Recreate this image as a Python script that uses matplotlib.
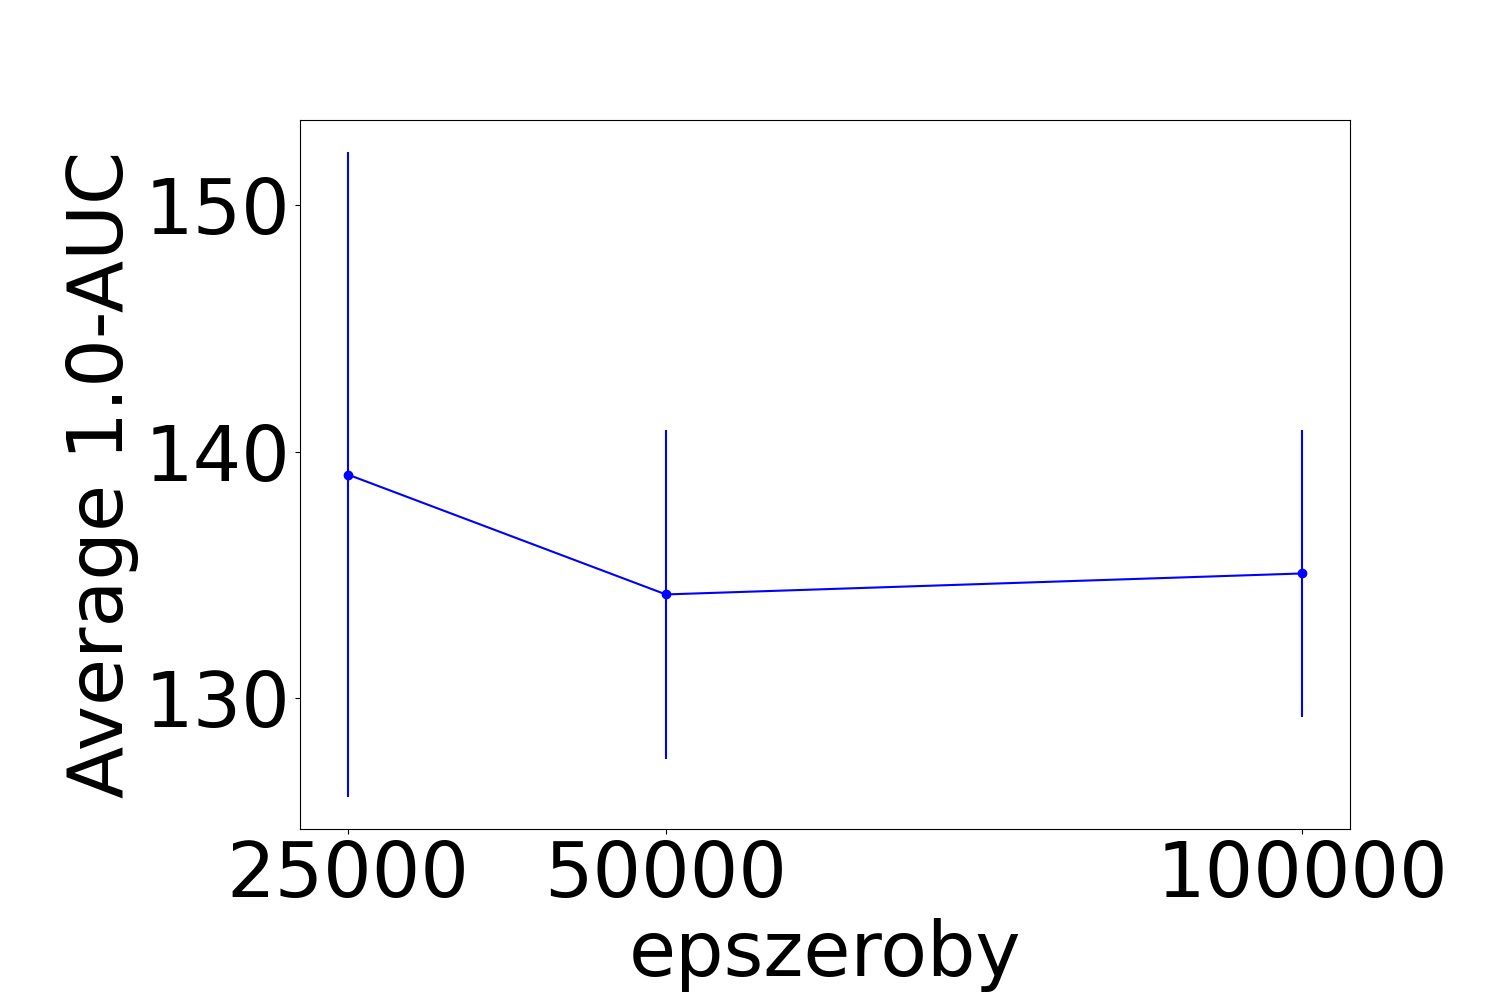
import matplotlib
matplotlib.use("Agg")
import matplotlib.pyplot as plt

# valores
epszeroby = [25000, 50000, 100000]
promedio = [139.07, 134.21, 135.06]
error = [13.06, 6.68, 5.83]

fig = plt.figure(figsize=(15, 10), dpi=100)
ax = fig.add_subplot(111)
fig.subplots_adjust(left=0.2, right=0.9, top=0.88, bottom=0.171)

ax.errorbar(epszeroby, promedio, yerr=error, color='blue', marker='o')
ax.set_xticks(epszeroby)
ax.set_xticklabels([str(v) for v in epszeroby])
ax.set_yticks([130, 140, 150])
ax.tick_params(labelsize=55)
ax.set_xlabel('epszeroby', fontsize=55)
ax.set_ylabel('Average 1.0-AUC', fontsize=55)

plt.savefig('out.png', dpi=100)
